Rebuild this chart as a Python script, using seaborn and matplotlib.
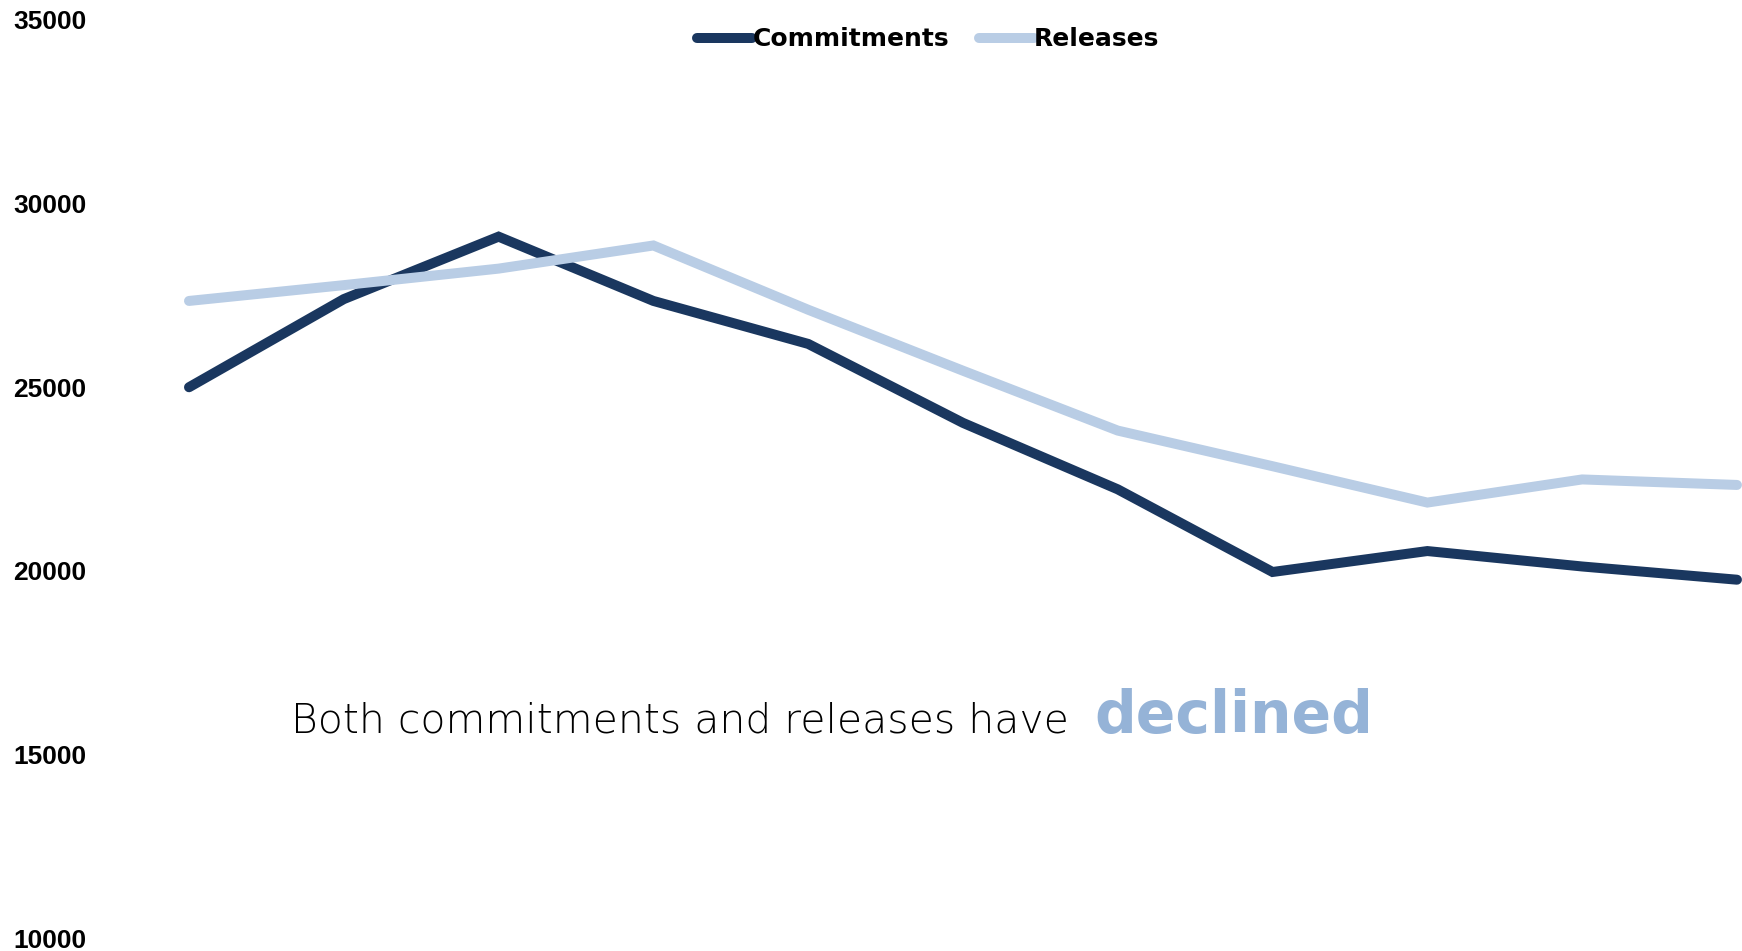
import pandas as pd
import matplotlib
matplotlib.use('Agg')
import matplotlib.pyplot as plt
import seaborn as sns

# values (11 periods, x labels not shown)
periods = list(range(1, 12))
commitments = [25000, 27400, 29100, 27350, 26180, 24030, 22220, 19970, 20540, 20120, 19760]
releases = [27350, 27780, 28230, 28860, 27110, 25450, 23820, 22850, 21860, 22490, 22340]
series_names = ['Commitments', 'Releases']
y_ticks = [10000, 15000, 20000, 25000, 30000, 35000]

colors = {'Commitments': '#1a375f', 'Releases': '#b9cde5'}
accent = '#95b3d7'

# long form table for seaborn
df = pd.DataFrame({
    'Period': periods * 2,
    'Value': commitments + releases,
    'Series': ['Commitments'] * len(periods) + ['Releases'] * len(periods),
})

sns.set_style('white')
plt.rcParams['font.family'] = ['DejaVu Sans']
plt.rcParams['text.color'] = 'black'

fig = plt.figure(figsize=(17.42, 9.51), dpi=100)
ax = fig.add_axes([0.1085, 0.0135, 0.8886, 0.9655])

sns.lineplot(data=df, x='Period', y='Value', hue='Series', hue_order=series_names,
             palette=colors, linewidth=7.2, legend=False, ax=ax)
for line in ax.lines:
    line.set_solid_capstyle('round')
    line.set_solid_joinstyle('miter')
    line.set_clip_on(False)

ax.set_xlim(periods[0], periods[-1])
ax.set_ylim(y_ticks[0], y_ticks[-1])
ax.set_xticks([])
ax.set_yticks(y_ticks)
ax.set_yticklabels([str(t) for t in y_ticks], fontsize=19, fontweight='bold',
                   family=['Liberation Sans', 'DejaVu Sans'], color='black')
ax.tick_params(axis='y', length=0, pad=74)
ax.set_xlabel('')
ax.set_ylabel('')
sns.despine(ax=ax, left=True, bottom=True)

leg = ax.legend(ax.lines[:2], series_names, loc='center',
                bbox_to_anchor=(0.533, 0.9585), bbox_transform=fig.transFigure,
                ncol=2, frameon=False,
                handlelength=2.2, handletextpad=0.0, columnspacing=1.2,
                prop={'family': 'DejaVu Sans', 'weight': 'bold', 'size': 18},
                borderaxespad=0.0)
for h in leg.get_lines():
    h.set_linewidth(7.2)
    h.set_solid_capstyle('round')
for t in leg.get_texts():
    t.set_color('black')

# annotation
fig.text(291 / 1742, 0.2295, 'Both commitments and releases have', fontsize=29.5,
         fontweight='light', color='black', ha='left', va='baseline')
fig.text(1094 / 1742, 0.2295, 'declined', fontsize=42, fontweight='bold',
         color=accent, ha='left', va='baseline')

fig.savefig('out.png', dpi=100)
